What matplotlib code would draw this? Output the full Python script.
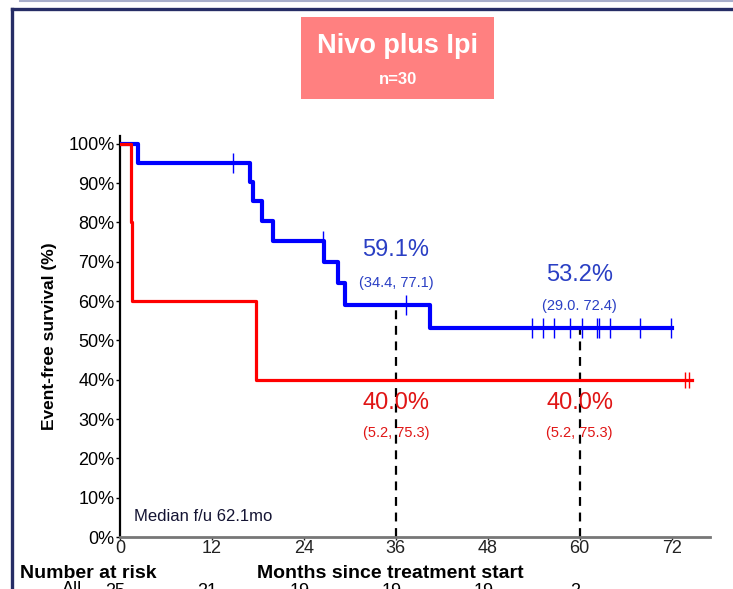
import matplotlib as mpl

mpl.use("Agg")

import matplotlib.pyplot as plt
from matplotlib.lines import Line2D
from matplotlib.patches import Rectangle

plt.rcParams["font.family"] = ["Liberation Sans Narrow", "Liberation Sans", "DejaVu Sans"]

# Kaplan-Meier steps (months, survival %)
blue_times = [0, 2.3, 17.0, 17.3, 18.5, 20.0, 26.6, 28.5, 29.3, 40.5, 72.1]
blue_surv = [100, 95.2, 90.4, 85.5, 80.4, 75.3, 70.0, 64.5, 59.1, 53.2, 53.2]
blue_cens_t = [14.7, 26.5, 37.3, 53.8, 55.2, 56.7, 58.7, 60.3, 62.2, 62.5, 64.0, 67.9, 71.9]
blue_cens_s = [95.2, 75.3, 59.1, 53.2, 53.2, 53.2, 53.2, 53.2, 53.2, 53.2, 53.2, 53.2, 53.2]

red_times = [0, 1.5, 1.6, 17.8, 74.7]
red_surv = [100, 80, 60, 40, 40]
red_cens_t = [73.8, 74.3]
red_cens_s = [40, 40]

landmarks = [36, 60]
blue_est = ["59.1%", "53.2%"]
blue_ci = ["(34.4, 77.1)", "(29.0. 72.4)"]
red_est = ["40.0%", "40.0%"]
red_ci = ["(5.2, 75.3)", "(5.2, 75.3)"]

xticks = [0, 12, 24, 36, 48, 60, 72]
yticks = [0, 10, 20, 30, 40, 50, 60, 70, 80, 90, 100]
at_risk = ["25", "21", "19", "19", "19", "2"]

BLUE = "#0000ff"
RED = "#ff0000"
BLUE_TXT = "#2a3fc4"
RED_TXT = "#e01515"

fig = plt.figure(figsize=(7.33, 5.89), dpi=100)

# slide frame
fig.add_artist(Line2D([0.027, 1.0], [0.999, 0.999], color="#a8aecb", lw=1.5))
fig.add_artist(Line2D([0.0165, 1.0], [0.984, 0.984], color="#262d66", lw=2.4))
fig.add_artist(Line2D([0.0165, 0.0165], [0.984, 0.0], color="#262d66", lw=2.4))

# title box
fig.add_artist(Rectangle((301 / 733, 1 - 99 / 589), 193 / 733, 82 / 589,
                         transform=fig.transFigure, color="#ff8080", lw=0))
fig.text(397.5 / 733, 1 - 46 / 589, "Nivo plus Ipi", color="white", fontsize=19.5,
         fontweight="bold", ha="center", va="center")
fig.text(397.5 / 733, 1 - 79 / 589, "n=30", color="white", fontsize=12,
         fontweight="bold", ha="center", va="center")

ax = fig.add_axes([120 / 733, 52 / 589, 590 / 733, 401 / 589])
ax.set_xlim(0, 77)
ax.set_ylim(0, 102)

ax.step(blue_times, blue_surv, where="post", color=BLUE, lw=3.0, zorder=3)
ax.step(red_times, red_surv, where="post", color=RED, lw=2.3, zorder=4)
ax.plot(blue_cens_t, blue_cens_s, ls="none", marker="|", ms=14, mew=1.0, color=BLUE, zorder=3)
ax.plot(red_cens_t, red_cens_s, ls="none", marker="|", ms=12, mew=1.0, color=RED, zorder=4)

for x, b in zip(landmarks, [59.1, 53.2]):
    ax.plot([x, x], [0, b], color="black", ls=(0, (4, 3)), lw=1.6, zorder=2)

ax.text(landmarks[0], 73.0, blue_est[0], color=BLUE_TXT, fontsize=17, ha="center", va="center")
ax.text(landmarks[0], 64.6, blue_ci[0], color=BLUE_TXT, fontsize=10.5, ha="center", va="center")
ax.text(landmarks[1], 66.7, blue_est[1], color=BLUE_TXT, fontsize=17, ha="center", va="center")
ax.text(landmarks[1], 58.8, blue_ci[1], color=BLUE_TXT, fontsize=10.5, ha="center", va="center")
for x, e, c in zip(landmarks, red_est, red_ci):
    ax.text(x, 34.2, e, color=RED_TXT, fontsize=17, ha="center", va="center")
    ax.text(x, 26.4, c, color=RED_TXT, fontsize=10.5, ha="center", va="center")

ax.text(1.8, 5.3, "Median f/u 62.1mo", color="#141433", fontsize=12, va="center")

ax.set_xticks(xticks)
ax.set_xticklabels([str(t) for t in xticks], fontsize=13)
ax.set_yticks(yticks)
ax.set_yticklabels([f"{t}%" for t in yticks], fontsize=13)
ax.tick_params(axis="y", length=3, width=1, pad=1, direction="out")
ax.tick_params(axis="x", length=2, width=1, pad=0, direction="out", colors="#222222")
ax.set_ylabel("Event-free survival (%)", fontsize=12.5, fontweight="bold",
              family=["Liberation Sans", "DejaVu Sans"], labelpad=8)

for side in ["top", "right"]:
    ax.spines[side].set_visible(False)
ax.spines["left"].set_linewidth(1.6)
ax.spines["left"].set_color("black")
ax.spines["bottom"].set_linewidth(2.0)
ax.spines["bottom"].set_color("#777777")

fig.text(20 / 733, 1 - 578 / 589, "Number at risk", fontsize=14, fontweight="bold", va="baseline")
fig.text(390 / 733, 1 - 578 / 589, "Months since treatment start", fontsize=14,
         fontweight="bold", ha="center", va="baseline")
fig.text(62 / 733, 1 - 594 / 589, "All", fontsize=13, va="baseline")
# number-at-risk row runs off the bottom edge, as in the source slide
for t, n in zip(xticks, at_risk):
    ax.text(t - 0.6, -0.115, n, transform=ax.get_xaxis_transform(), fontsize=13,
            ha="center", va="top", clip_on=False)

fig.savefig("out.png", dpi=100)
